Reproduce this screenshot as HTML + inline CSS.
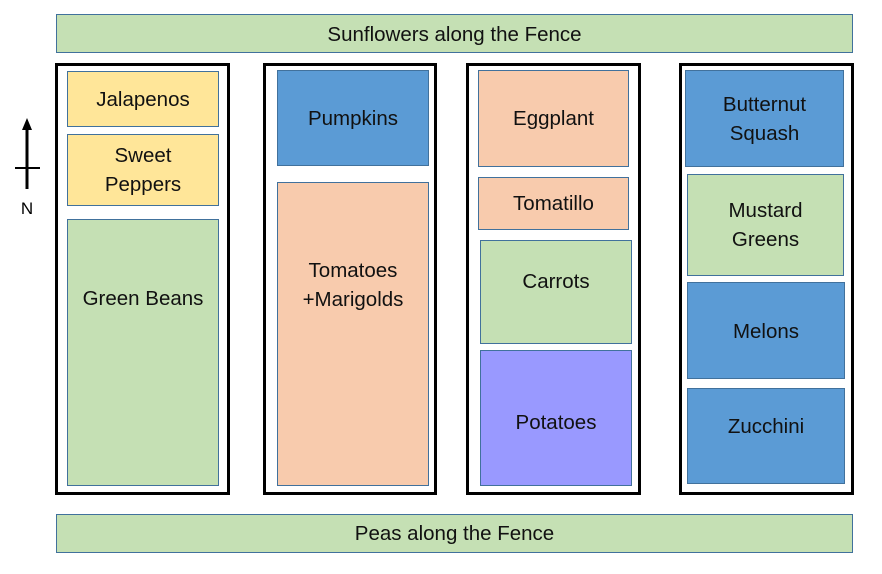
<!DOCTYPE html>
<html><head><style>
body{margin:0;width:882px;height:574px;background:#fff;position:relative;font-family:"Liberation Sans",sans-serif;overflow:hidden}
.b{position:absolute;box-sizing:border-box;border:1px solid #41719C;display:flex;align-items:center;justify-content:center;text-align:center;font-size:20.5px;line-height:29px;color:#111}
.b span{position:relative}
.k{position:absolute;box-sizing:border-box;border:3px solid #000}
.y{background:#FFE699}.g{background:#C5E0B4}.u{background:#5B9BD5}.p{background:#F8CBAD}.v{background:#9999FF}
</style></head><body>
<div class="b g" style="left:56px;top:14px;width:797px;height:39px"><span style="top:1px">Sunflowers along the Fence</span></div>
<div class="b g" style="left:56px;top:514px;width:797px;height:39px"><span>Peas along the Fence</span></div>
<div class="k" style="left:55px;top:63px;width:175px;height:432px"></div>
<div class="k" style="left:263px;top:63px;width:174px;height:432px"></div>
<div class="k" style="left:466px;top:63px;width:175px;height:432px"></div>
<div class="k" style="left:679px;top:63px;width:175px;height:432px"></div>
<div class="b y" style="left:67px;top:71px;width:152px;height:56px"><span>Jalapenos</span></div>
<div class="b y" style="left:67px;top:134px;width:152px;height:72px"><span>Sweet<br>Peppers</span></div>
<div class="b g" style="left:67px;top:219px;width:152px;height:267px"><span style="top:-54px">Green Beans</span></div>
<div class="b u" style="left:277px;top:70px;width:152px;height:96px"><span>Pumpkins</span></div>
<div class="b p" style="left:277px;top:182px;width:152px;height:304px"><span style="top:-49px">Tomatoes<br>+Marigolds</span></div>
<div class="b p" style="left:478px;top:70px;width:151px;height:97px"><span>Eggplant</span></div>
<div class="b p" style="left:478px;top:177px;width:151px;height:53px"><span>Tomatillo</span></div>
<div class="b g" style="left:480px;top:240px;width:152px;height:104px"><span style="top:-11px">Carrots</span></div>
<div class="b v" style="left:480px;top:350px;width:152px;height:136px"><span style="top:4px">Potatoes</span></div>
<div class="b u" style="left:685px;top:70px;width:159px;height:97px"><span>Butternut<br>Squash</span></div>
<div class="b g" style="left:687px;top:174px;width:157px;height:102px"><span>Mustard<br>Greens</span></div>
<div class="b u" style="left:687px;top:282px;width:158px;height:97px"><span style="top:1px">Melons</span></div>
<div class="b u" style="left:687px;top:388px;width:158px;height:96px"><span style="top:-10px">Zucchini</span></div>
<svg style="position:absolute;left:0;top:0" width="60" height="230">
<line x1="27" y1="128" x2="27" y2="189" stroke="#000" stroke-width="3"/>
<polygon points="27,118 22,130 32,130" fill="#000"/>
<line x1="15" y1="168" x2="40" y2="168" stroke="#000" stroke-width="2"/>
<text x="27" y="214" font-family="Liberation Sans" font-size="17" text-anchor="middle">N</text>
</svg>
</body></html>
